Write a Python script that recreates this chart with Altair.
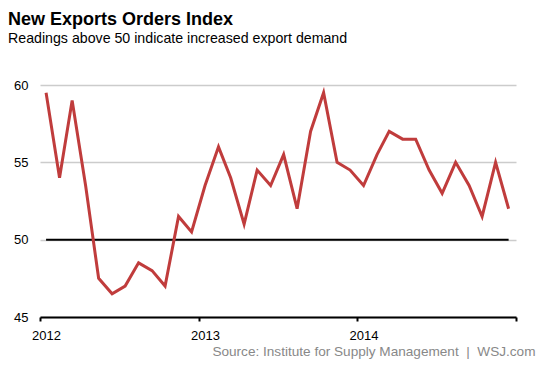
import altair as alt
import pandas as pd

months = pd.date_range("2012-01-01", periods=36, freq="MS") + pd.Timedelta(days=14)
values = [59.5, 54.0, 59.0, 53.5, 47.5, 46.5, 47.0, 48.5, 48.0, 47.0, 51.5, 50.5,
          53.5, 56.0, 54.0, 51.0, 54.5, 53.5, 55.5, 52.0, 57.0, 59.5, 55.0, 54.5,
          53.5, 55.5, 57.0, 56.5, 56.5, 54.5, 53.0, 55.0, 53.5, 51.5, 55.0, 52.0]
y_ticks = [45, 50, 55, 60]
year_ticks = [2012, 2013, 2014, 2015]

df = pd.DataFrame({"date": months, "value": values})

FONT = "Liberation Sans"
NB = "\u00a0"

x_scale = alt.Scale(domain=[alt.DateTime(year=2012, month=1, date=1),
                            alt.DateTime(year=2015, month=1, date=1)])
y_scale = alt.Scale(domain=[45, 60], nice=False, zero=False)

x_axis = alt.Axis(
    values=[alt.DateTime(year=y, month=1, date=1) for y in year_ticks],
    format="%Y",
    labelExpr="year(datum.value) == 2015 ? '' : datum.label",
    grid=False,
    domainColor="black", domainWidth=2,
    tickColor="black", tickWidth=2, tickSize=4,
    labelFont=FONT, labelFontSize=13, labelColor="black",
    labelPadding=8.5, labelAlign="center", labelOffset=6,
    title=f"Source: Institute for Supply Management {NB}|{NB} WSJ.com",
    titleFont=FONT, titleFontSize=13.6, titleFontWeight="normal", titleColor="#888888",
    titleAnchor="end", titleAlign="right", titleBaseline="alphabetic",
    titleX=495, titleY=38.5,
)
y_axis = alt.Axis(
    values=y_ticks, grid=True, gridColor="#cccccc", gridWidth=1.5,
    domain=False, ticks=False,
    labelFont=FONT, labelFontSize=13, labelColor="black", labelPadding=12,
    title=None,
)

line = alt.Chart(df).mark_line(color="#c03c3c", strokeWidth=3).encode(
    x=alt.X("date:T", scale=x_scale, axis=x_axis),
    y=alt.Y("value:Q", scale=y_scale, axis=y_axis),
)

rule = alt.Chart(df).mark_rule(color="black", strokeWidth=2).encode(
    x=alt.X("min(date):T", scale=x_scale),
    x2="max(date):T",
    y=alt.datum(50),
)

chart = alt.layer(rule, line).properties(
    width=476, height=232,
    autosize=alt.AutoSizeParams(type="none"),
    padding={"left": 32, "top": 77, "right": 29, "bottom": 44},
    title=alt.TitleParams(
        text="New Exports Orders Index",
        subtitle="Readings above 50 indicate increased export demand",
        anchor="start", frame="group", orient="top",
        font=FONT, fontSize=18, fontWeight="bold", color="black",
        subtitleFont=FONT, subtitleFontSize=14.2, subtitleColor="black",
        subtitlePadding=3, dx=-32, offset=33,
    ),
).configure_view(stroke=None)

chart.save("out.html", embed_options={"renderer": "svg", "actions": False})
